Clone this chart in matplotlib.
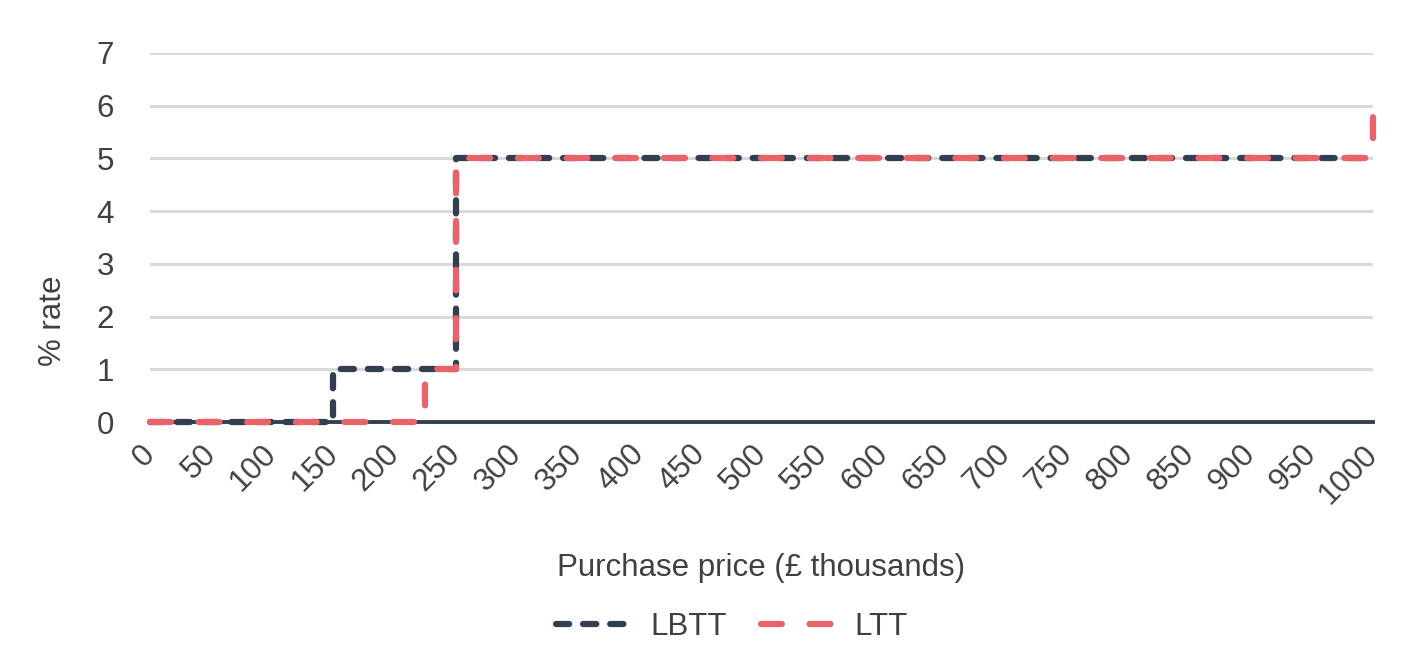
import matplotlib
matplotlib.use("Agg")
import matplotlib.pyplot as plt

plt.rcParams['font.family'] = ['Liberation Sans', 'DejaVu Sans']
plt.rcParams['lines.scale_dashes'] = False

# Data: band thresholds (£ thousands) and marginal % rate from each threshold
lbtt_price = [0, 150, 250, 1000]
lbtt_rate = [0, 1, 5, 5]
ltt_price = [0, 225, 250, 1000, 1000]
ltt_rate = [0, 1, 5, 5, 6]
x_ticks = list(range(0, 1001, 50))
y_ticks = list(range(0, 8))

dark = '#333F50'
red = '#E8646A'
text_c = '#404040'
fs = 22.5

fig = plt.figure(figsize=(14.2, 6.58), dpi=100)
ax = fig.add_axes([150/1420, 1-422/658, (1373-150)/1420, (422-53)/658])

ax.step(lbtt_price, lbtt_rate, where='post', color=dark, lw=4.5,
        dashes=(9.5, 10), dash_capstyle='round', solid_capstyle='round',
        label='LBTT', zorder=3, clip_on=False)
ax.step(ltt_price, ltt_rate, where='post', color=red, lw=4.5,
        dashes=(15, 20), dash_capstyle='round', label='LTT', zorder=4, clip_on=False)

ax.set_xlim(0, 1000)
ax.set_ylim(0, 7)
ax.set_xticks(x_ticks)
ax.set_xticklabels([str(v) for v in x_ticks], rotation=45, ha='right', va='center',
                   rotation_mode='anchor', fontsize=fs, color=text_c)
ax.tick_params(axis='both', length=0)
ax.tick_params(axis='x', pad=20)
ax.set_yticks(y_ticks)
ax.set_yticklabels([str(v) for v in y_ticks], fontsize=fs, color=text_c)
ax.tick_params(axis='y', pad=26)
ax.grid(axis='y', color='#D9D9D9', lw=2.2, zorder=0)
ax.set_axisbelow(True)
for s in ['top', 'right', 'left']:
    ax.spines[s].set_visible(False)
ax.spines['bottom'].set_color(dark)
ax.spines['bottom'].set_linewidth(2.8)
ax.spines['bottom'].set_zorder(2)

ax.set_xlabel('Purchase price (£ thousands)', fontsize=fs, color=text_c, labelpad=31)
ax.set_ylabel('% rate', fontsize=fs, color=text_c)
ax.yaxis.set_label_coords(-0.067, 0.274)

leg = fig.legend(loc='center', bbox_to_anchor=(732/1420, 1-627/658), ncol=2,
                 frameon=False, fontsize=fs, handlelength=2.5, columnspacing=1.1,
                 handletextpad=0.5)
for t in leg.get_texts():
    t.set_color(text_c)

fig.savefig('out.png', dpi=100)
